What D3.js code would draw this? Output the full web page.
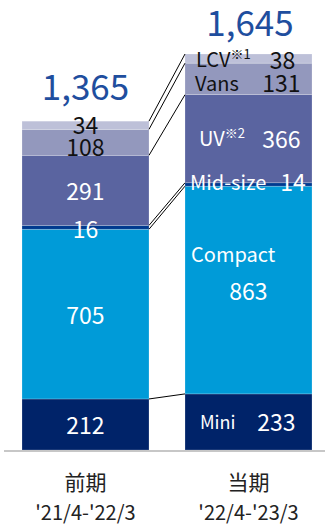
<!DOCTYPE html>
<html><head><meta charset="utf-8">
<script src="https://cdn.jsdelivr.net/npm/d3@7"></script>
<style>
html,body{margin:0;padding:0;background:#fff;}
svg{display:block;font-family:"Noto Sans CJK JP","Noto Sans",sans-serif;}
</style></head>
<body>
<svg id="chart" width="325" height="524"></svg>
<script>
// ---- data ----
const categories = ["前期", "当期"];
const periods = ["'21/4-'22/3", "'22/4-'23/3"];
const segments = ["Mini", "Compact", "Mid-size", "UV", "Vans", "LCV"];
const segmentNotes = ["", "", "", "※2", "", "※1"];
const prevValues = [212, 705, 16, 291, 108, 34];
const currValues = [233, 863, 14, 366, 131, 38];
const totals = [1365, 1645];
const colors = ["#002369", "#009bd8", "#003a8f", "#5a64a0", "#9398bd", "#bdc0d8"];

// ---- layout ----
const svg = d3.select("#chart");
const x = d3.scaleBand().domain(categories).range([22, 312]).paddingInner(0.2209).paddingOuter(0);
const y = d3.scaleLinear().domain([0, d3.max(totals)]).range([450, 54]);

const series = [prevValues, currValues];
const stacks = series.map(vals => {
  let c = 0;
  return vals.map((v, i) => { const s = {seg: segments[i], i, v, y0: c, y1: c + v}; c += v; return s; });
});

// bars
categories.forEach((cat, ci) => {
  svg.append("g").selectAll("rect").data(stacks[ci]).join("rect")
    .attr("x", x(cat)).attr("width", x.bandwidth())
    .attr("y", d => y(d.y1)).attr("height", d => y(d.y0) - y(d.y1))
    .attr("fill", d => colors[d.i])
    .attr("stroke", "#ffffff").attr("stroke-opacity", 0.35).attr("stroke-width", 0.6);
});

// series lines
const xL = x(categories[0]) + x.bandwidth();
const xR = x(categories[1]);
svg.append("g").selectAll("line").data(segments).join("line")
  .attr("x1", xL).attr("x2", xR)
  .attr("y1", (d, i) => y(stacks[0][i].y1))
  .attr("y2", (d, i) => y(stacks[1][i].y1))
  .attr("stroke", "#000").attr("stroke-width", 1);

// axis baseline
svg.append("line").attr("x1", 4).attr("x2", 325).attr("y1", y(0) + 1).attr("y2", y(0) + 1)
  .attr("stroke", "#b5b5b5").attr("stroke-width", 1.5);

const textColor = i => (i >= 4 ? "#111" : "#fff");

// left bar value labels (centered)
const leftDy = [0, 0, 1, 0, 3.5, -1.5];
svg.append("g").selectAll("text").data(stacks[0]).join("text")
  .attr("x", x(categories[0]) + x.bandwidth() / 2)
  .attr("y", d => (y(d.y0) + y(d.y1)) / 2 + leftDy[d.i])
  .attr("text-anchor", "middle").attr("dominant-baseline", "central")
  .attr("font-size", 23).attr("fill", d => textColor(d.i))
  .text(d => d.v);

// right bar labels
const rightNameX = [200, 191, 190, 199, 195, 196];
const rightValX = [276.5, 248.5, 293, 281.5, 281.5, 282.5];
const rightNameDy = [-1, -37, -3, -1, 4, 0];
const rightValDy = [-1, 0, -3, -1, 3, 0];
const nameSize = [18, 20, 20, 20, 20, 20];
const gR = svg.append("g");
stacks[1].forEach(d => {
  const cy = (y(d.y0) + y(d.y1)) / 2;
  const t = gR.append("text")
    .attr("x", rightNameX[d.i]).attr("y", cy + rightNameDy[d.i])
    .attr("dominant-baseline", "central")
    .attr("font-size", nameSize[d.i]).attr("fill", textColor(d.i))
    .text(d.seg);
  if (segmentNotes[d.i]) {
    t.append("tspan").attr("font-size", 13).attr("dy", -6).text(segmentNotes[d.i]);
  }
  gR.append("text")
    .attr("x", rightValX[d.i]).attr("y", cy + rightValDy[d.i])
    .attr("text-anchor", "middle").attr("dominant-baseline", "central")
    .attr("font-size", 23).attr("fill", textColor(d.i))
    .text(d.v);
});

// totals
const totalDy = [-21, -18];
svg.append("g").selectAll("text").data(totals).join("text")
  .attr("x", (d, i) => x(categories[i]) + x.bandwidth() / 2 + (i ? 1.5 : 0))
  .attr("y", (d, i) => y(d) + totalDy[i])
  .attr("text-anchor", "middle")
  .attr("font-size", 35).attr("fill", "#1f4e9e")
  .text(d => d3.format(",")(d));

// category labels
svg.append("g").selectAll("text").data(categories).join("text")
  .attr("x", d => x(d) + x.bandwidth() / 2)
  .attr("y", 481).attr("text-anchor", "middle").attr("dominant-baseline", "central")
  .attr("font-size", 21).attr("fill", "#222")
  .text(d => d);
svg.append("g").selectAll("text").data(periods).join("text")
  .attr("x", (d, i) => x(categories[i]) + x.bandwidth() / 2)
  .attr("y", 511).attr("text-anchor", "middle").attr("dominant-baseline", "central")
  .attr("font-size", 20).attr("fill", "#222")
  .text(d => d);
</script>
</body></html>
